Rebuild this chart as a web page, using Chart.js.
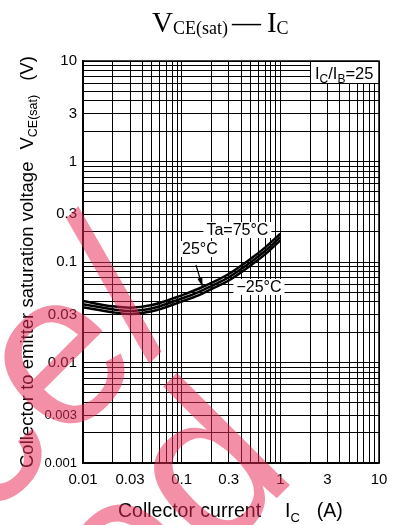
<!DOCTYPE html>
<html><head><meta charset="utf-8">
<script src="https://cdn.jsdelivr.net/npm/chart.js@4/dist/chart.umd.min.js"></script>
<style>html,body{margin:0;padding:0;background:#fff}#wrap{width:396px;height:525px;position:relative}</style>
</head><body><div id="wrap"><canvas id="c"></canvas></div>
<script>
// ---- data ----
const current = [0.01, 0.02, 0.03, 0.05, 0.1, 0.15, 0.2, 0.3, 0.5, 0.7, 1.0];
const vce75  = [0.0409, 0.0362, 0.0351, 0.0373, 0.0466, 0.0545, 0.0620, 0.0760, 0.1075, 0.1390, 0.191];
const vce25  = [0.0379, 0.0338, 0.0325, 0.0346, 0.0433, 0.0505, 0.0577, 0.0705, 0.0995, 0.1286, 0.177];
const vceM25 = [0.0354, 0.0316, 0.0304, 0.0323, 0.0404, 0.0468, 0.0538, 0.0655, 0.0925, 0.1190, 0.164];
const seriesNames = ['Ta=75°C', '25°C', '−25°C'];
const xTickLabels = ['0.01', '0.03', '0.1', '0.3', '1', '3', '10'];
const yTickLabels = ['0.001', '0.003', '0.01', '0.03', '0.1', '0.3', '1', '3', '10'];
const watermarkLines = ['Maintenance/', 'Discontinued'];

const SANS = "'Liberation Sans', Arial, Helvetica, sans-serif";
const SERIF = "'Liberation Serif', 'Times New Roman', serif";

function gridValues(e0, e1) {
  const out = [];
  for (let e = e0; e < e1; e++) for (let m = 1; m <= 9; m++) out.push(parseFloat((m * Math.pow(10, e)).toPrecision(6)));
  out.push(Math.pow(10, e1));
  return out;
}
function labelFor(v, labels) {
  const l = labels.find(s => Math.abs(parseFloat(s) / v - 1) < 1e-6);
  return l === undefined ? '' : l;
}
function drawParts(ctx, parts, x, y, family) {
  let cx = x;
  for (const p of parts) {
    ctx.font = `${p.size}px ${family}`;
    ctx.fillText(p.t, cx, y + (p.dy || 0));
    cx += ctx.measureText(p.t).width + (p.pad || 0);
  }
  return cx;
}

const decor = {
  id: 'decor',
  afterDatasetsDraw(chart) {
    const ctx = chart.ctx, xs = chart.scales.x, ys = chart.scales.y, ca = chart.chartArea;
    ctx.save();
    ctx.fillStyle = '#000';
    ctx.textBaseline = 'middle';
    ctx.font = `16px ${SANS}`;
    const anchors = [[0.367, 0.208], [0.153, 0.1346], [0.607, 0.0564]];
    seriesNames.forEach((name, i) => {
      const px = xs.getPixelForValue(anchors[i][0]);
      const py = ys.getPixelForValue(anchors[i][1]);
      const w = ctx.measureText(name).width;
      ctx.fillStyle = '#fff';
      ctx.fillRect(px - w / 2 - 3, py - 8, w + 6, 16);
      ctx.fillStyle = '#000';
      ctx.textAlign = 'center';
      ctx.fillText(name, px, py + 1);
    });
    // arrow for 25°C
    const ax1 = xs.getPixelForValue(0.1396), ay1 = ys.getPixelForValue(0.0933);
    const ax2 = xs.getPixelForValue(0.1625), ay2 = ys.getPixelForValue(0.057);
    ctx.strokeStyle = '#000'; ctx.lineWidth = 1.2;
    ctx.beginPath(); ctx.moveTo(ax1, ay1); ctx.lineTo(ax2, ay2); ctx.stroke();
    const ang = Math.atan2(ay2 - ay1, ax2 - ax1);
    ctx.beginPath();
    ctx.moveTo(ax2, ay2);
    ctx.lineTo(ax2 - 9 * Math.cos(ang) + 2.6 * Math.sin(ang), ay2 - 9 * Math.sin(ang) - 2.6 * Math.cos(ang));
    ctx.lineTo(ax2 - 9 * Math.cos(ang) - 2.6 * Math.sin(ang), ay2 - 9 * Math.sin(ang) + 2.6 * Math.cos(ang));
    ctx.closePath(); ctx.fill();
    // condition box
    const bw = 69, bh = 22;
    ctx.fillStyle = '#fff';
    ctx.fillRect(ca.right - bw, ca.top, bw, bh);
    ctx.strokeStyle = '#000'; ctx.lineWidth = 1;
    ctx.strokeRect(Math.round(ca.right - bw) + 0.5, ca.top + 0.5, bw, bh);
    ctx.fillStyle = '#000';
    ctx.textAlign = 'left'; ctx.textBaseline = 'alphabetic';
    drawParts(ctx, [
      {t: 'I', size: 16.5}, {t: 'C', size: 12, dy: 4}, {t: '/I', size: 16.5}, {t: 'B', size: 12, dy: 4}, {t: '=25', size: 16.5}
    ], ca.right - bw + 5, ca.top + 18, SANS);
    // frame
    ctx.lineWidth = 1.5;
    ctx.strokeRect(ca.left, ca.top, ca.right - ca.left, ca.bottom - ca.top);
    ctx.restore();
  },
  afterDraw(chart) {
    const ctx = chart.ctx;
    ctx.save();
    ctx.fillStyle = '#000';
    ctx.textAlign = 'left'; ctx.textBaseline = 'alphabetic';
    // title
    drawParts(ctx, [
      {t: 'V', size: 29}, {t: 'CE(sat)', size: 18, dy: 2.5, pad: 4}, {t: '—', size: 29, pad: 6},
      {t: 'I', size: 29}, {t: 'C', size: 18, dy: 2.5}
    ], 152, 31.5, SERIF);
    // x axis title
    drawParts(ctx, [
      {t: 'Collector current', size: 19.5, pad: 24}, {t: 'I', size: 19.5}, {t: 'C', size: 13, dy: 5, pad: 17}, {t: '(A)', size: 19.5}
    ], 118, 516.5, SANS);
    // y axis title
    ctx.save();
    ctx.translate(33, 468);
    ctx.rotate(-Math.PI / 2);
    drawParts(ctx, [
      {t: 'Collector to emitter saturation voltage', size: 18.5, pad: 12}, {t: 'V', size: 18.5},
      {t: 'CE(sat)', size: 12.5, dy: 4, pad: 14}, {t: '(V)', size: 18.5}
    ], 0, 0, SANS);
    ctx.restore();
    // watermark
    ctx.fillStyle = 'rgba(232,40,85,0.52)';
    ctx.font = `220px ${SANS}`;
    ctx.textAlign = 'right';
    const wpos = [[191, 319], [300, 475]];
    watermarkLines.forEach((t, i) => {
      ctx.save();
      ctx.translate(wpos[i][0], wpos[i][1]);
      ctx.rotate(-Math.PI / 4);
      ctx.fillText(t, 0, 0);
      ctx.restore();
    });
    ctx.restore();
  }
};

const mk = (name, vals) => ({
  label: name,
  data: current.map((x, i) => ({x, y: vals[i]})),
  borderColor: '#000', borderWidth: 2.5, pointRadius: 0, fill: false,
  cubicInterpolationMode: 'monotone'
});

new Chart(document.getElementById('c'), {
  type: 'line',
  data: {datasets: [mk(seriesNames[0], vce75), mk(seriesNames[1], vce25), mk(seriesNames[2], vceM25)]},
  options: {
    responsive: true, maintainAspectRatio: false, animation: false,
    layout: {padding: {top: 61, right: 17, left: 0, bottom: 0}},
    plugins: {legend: {display: false}, tooltip: {enabled: false}, title: {display: false}},
    scales: {
      x: {
        type: 'logarithmic', min: 0.01, max: 10,
        afterFit(s) { s.height = 62; },
        afterBuildTicks(s) { s.ticks = gridValues(-2, 1).map(v => ({value: v})); },
        grid: {color: '#000', lineWidth: 1, drawTicks: false},
        border: {color: '#000', width: 1.5},
        ticks: {autoSkip: false, maxRotation: 0, padding: 8, color: '#000', font: {family: SANS, size: 15},
          callback: v => labelFor(v, xTickLabels)}
      },
      y: {
        type: 'logarithmic', min: 0.001, max: 10,
        afterFit(s) { s.width = 83; },
        afterBuildTicks(s) { s.ticks = gridValues(-3, 1).map(v => ({value: v})); },
        grid: {color: '#000', lineWidth: 1, drawTicks: false},
        border: {color: '#000', width: 1.5},
        ticks: {autoSkip: false, padding: 6, color: '#000',
          font: c => ({family: SANS, size: (c.tick && String(c.tick.label).length >= 5) ? 13 : 15}),
          callback: v => labelFor(v, yTickLabels)}
      }
    }
  },
  plugins: [decor]
});
</script></body></html>
